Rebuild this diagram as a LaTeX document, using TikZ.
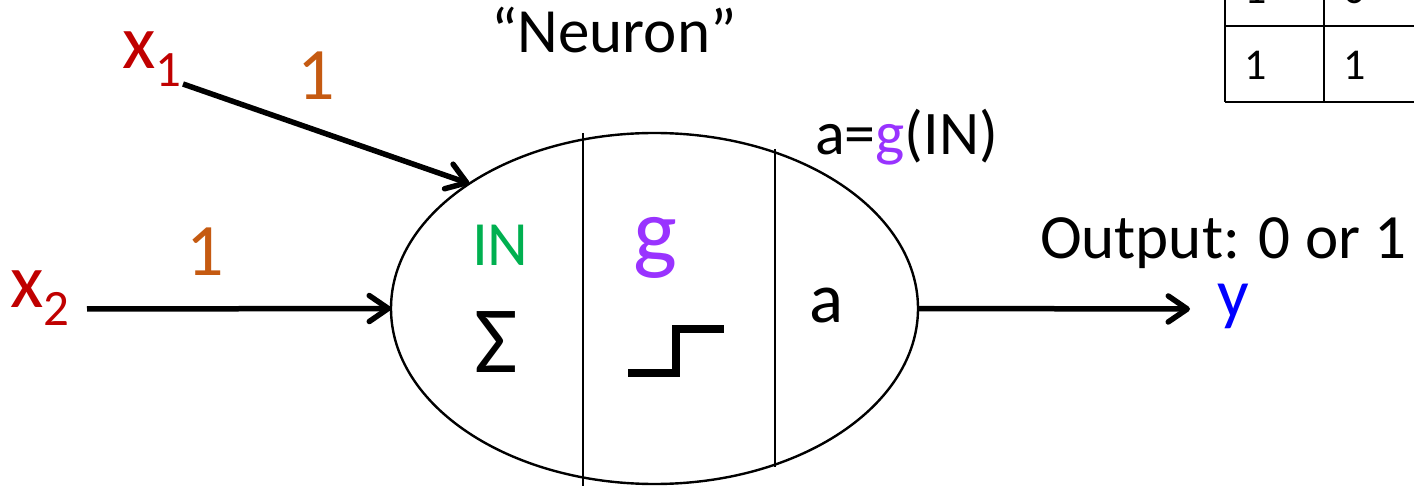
\documentclass[tikz,border=0pt]{standalone}
\usepackage{fontspec}
\setmainfont{Carlito}
\usetikzlibrary{arrows.meta,shapes.geometric}
\definecolor{xred}{RGB}{192,0,0}
\definecolor{wor}{RGB}{197,90,17}
\definecolor{ingreen}{RGB}{0,176,80}
\definecolor{gpurple}{RGB}{153,51,255}
\definecolor{yblue}{RGB}{0,0,255}
\newcommand\fsz[1]{\fontsize{#1pt}{#1pt}\selectfont}
\tikzset{
  lbl/.style={anchor=base west, inner sep=0pt, outer sep=0pt},
  arr/.style={line width=5.5pt, -{Straight Barb[length=19pt,width=26pt,line cap=round,line join=round]}},
  divider/.style={line width=1.4pt},
  tab/.style={line width=2.2pt},
}
\begin{document}
\begin{tikzpicture}[x=1pt,y=-1pt]
\useasboundingbox (0,0) rectangle (1414,486);
\begin{scope}
\clip (0,0) rectangle (1414,486);
% neuron body
\node[ellipse, draw, line width=2.4pt, minimum width=527pt, minimum height=351pt, inner sep=0pt, outer sep=0pt] (ell) at (654.5,308.5) {};
\draw[divider] (583,133) -- (583,486);
\draw[divider] (775,149) -- (775,467);
% step function
\draw[line width=7.5pt] (628,373) -- (676,373) -- (676,329) -- (724,329);
% table
\draw[tab] (1225,-60) -- (1225,102);
\draw[tab] (1324,-60) -- (1324,102);
\draw[tab] (1225,26) -- (1500,26);
\draw[tab] (1225,102) -- (1500,102);
\node[lbl] (t11) at (1244.5,4) {\fsz{44}1};
\node[lbl] (t12) at (1343,4) {\fsz{44}0};
\node[lbl] (t21) at (1244.5,80) {\fsz{44}1};
\node[lbl] (t22) at (1343.5,80) {\fsz{44}1};
\end{scope}
% labels
\node[anchor=base, inner sep=0pt] (title) at (614,53) {\fsz{63}“Neuron”};
\node[lbl, text=xred] (x1) at (122,69) {\fsz{77}x\raisebox{-18pt}{\fsz{51}1}};
\node[lbl, text=xred] (x2) at (10,308) {\fsz{77}x\raisebox{-18pt}{\fsz{51}2}};
\node[lbl, text=wor] (w1) at (297,100) {\fsz{74}1};
\node[lbl, text=wor] (w2) at (186,276) {\fsz{74}1};
\node[lbl, text=ingreen] (in) at (472,266) {\fsz{63}IN};
\node[lbl] (sigma) at (474,373) {\fsz{95}Σ};
\node[lbl, text=gpurple] (g) at (633,263) {\fsz{93}g};
\node[lbl] (a) at (809,323) {\fsz{71}a};
\node[lbl] (ag) at (815,155) {\fsz{62}a=\textcolor{gpurple}{g}(IN)};
\node[lbl] (out) at (1040,259) {\fsz{63}Output: 0 or 1};
\node[lbl, text=yblue] (y) at (1217,318) {\fsz{70}y};
% connectors
\coordinate (x1s) at (183,84);
\coordinate (x2s) at (87,309);
\coordinate (ye) at (1190,309);
\draw[arr] (x1s) -- (ell.146);
\draw[arr] (x2s) -- (ell.west);
\draw[arr] (ell.east) -- (ye);
\end{tikzpicture}
\end{document}
